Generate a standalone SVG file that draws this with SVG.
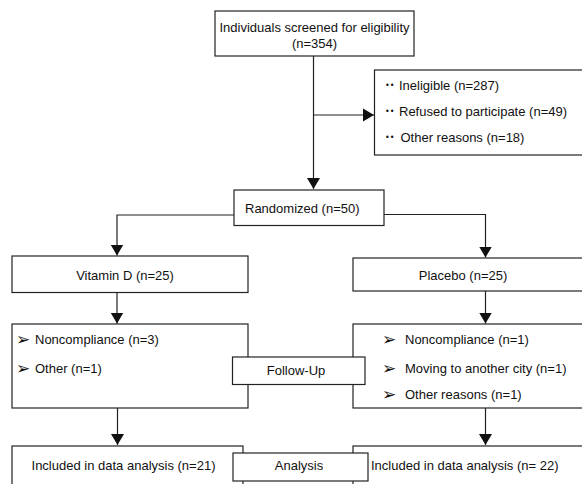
<svg xmlns="http://www.w3.org/2000/svg" width="582" height="484" viewBox="0 0 582 484">
<style>
.box{fill:#fff;stroke:#222;stroke-width:1.2}
.t{font-family:"Liberation Sans",Arial,sans-serif;font-size:13px;fill:#111}
.c{text-anchor:middle}
.b{font-family:"DejaVu Sans",sans-serif;font-size:8px;fill:#111}
.a{font-family:"DejaVu Sans",sans-serif;font-size:17px;fill:#111}
.ln{fill:none;stroke:#222;stroke-width:1.2}
</style>
<defs>
<marker id="ah" markerWidth="12" markerHeight="14" refX="11" refY="7" orient="auto" markerUnits="userSpaceOnUse">
<path d="M0,0.5 L11,7 L0,13.5 Z" fill="#111"/>
</marker>
</defs>
<rect width="582" height="484" fill="#fff"/>
<g id="connectors">
<path class="ln" d="M313.5,56 V189" marker-end="url(#ah)"/>
<path class="ln" d="M313.5,115 H374" marker-end="url(#ah)"/>
<path class="ln" d="M234,215 H117 V255.5" marker-end="url(#ah)"/>
<path class="ln" d="M384,214.5 H485.5 V257.5" marker-end="url(#ah)"/>
<path class="ln" d="M117,292.5 V323.5" marker-end="url(#ah)"/>
<path class="ln" d="M485.5,291 V323.5" marker-end="url(#ah)"/>
<path class="ln" d="M117.5,408 V445" marker-end="url(#ah)"/>
<path class="ln" d="M485.5,408 V445" marker-end="url(#ah)"/>
</g>
<g id="screened">
<rect class="box" x="215" y="11" width="199" height="45"/>
<text class="t c" x="314.5" y="31.5">Individuals screened for eligibility</text>
<text class="t c" x="314.5" y="48">(n=354)</text>
</g>
<g id="excluded">
<rect class="box" x="374.5" y="70" width="212" height="85"/>
<text class="b" x="385" y="88">••</text>
<text class="t" x="399" y="90">Ineligible (n=287)</text>
<text class="b" x="385" y="113.5">••</text>
<text class="t" x="399" y="115.5">Refused to participate (n=49)</text>
<text class="b" x="385" y="139.5">••</text>
<text class="t" x="400.5" y="141.5">Other reasons (n=18)</text>
</g>
<g id="randomized">
<rect class="box" x="234" y="190" width="150" height="35.5"/>
<text class="t" x="245" y="212.5">Randomized (n=50)</text>
</g>
<g id="vitd">
<rect class="box" x="12" y="256" width="236" height="36.5"/>
<text class="t c" x="125" y="280">Vitamin D (n=25)</text>
</g>
<g id="placebo">
<rect class="box" x="353" y="258" width="235" height="33"/>
<text class="t c" x="463" y="280">Placebo (n=25)</text>
</g>
<g id="fu-left">
<rect class="box" x="12" y="324" width="236" height="84"/>
<text class="a" x="16" y="345">➢</text>
<text class="t" x="35" y="344">Noncompliance (n=3)</text>
<text class="a" x="16" y="374">➢</text>
<text class="t" x="35" y="373">Other (n=1)</text>
</g>
<g id="fu-right">
<rect class="box" x="353" y="324" width="235" height="84"/>
<text class="a" x="382" y="345">➢</text>
<text class="t" x="405" y="344">Noncompliance (n=1)</text>
<text class="a" x="382" y="373.5">➢</text>
<text class="t" x="405" y="372.5">Moving to another city (n=1)</text>
<text class="a" x="382" y="400">➢</text>
<text class="t" x="405" y="399">Other reasons (n=1)</text>
</g>
<g id="followup">
<rect class="box" x="232.5" y="357" width="132.5" height="27.5"/>
<text class="t c" x="296" y="375">Follow-Up</text>
</g>
<g id="an-left">
<rect class="box" x="12" y="446" width="231" height="50"/>
<text class="t c" x="123.5" y="469.5">Included in data analysis (n=21)</text>
</g>
<g id="an-right">
<rect class="box" x="353" y="446" width="235" height="50"/>
<text class="t" x="371" y="469.5">Included in data analysis (n= 22)</text>
</g>
<g id="analysis">
<rect class="box" x="233" y="453" width="135" height="28"/>
<text class="t c" x="299" y="469.5">Analysis</text>
</g>
</svg>
